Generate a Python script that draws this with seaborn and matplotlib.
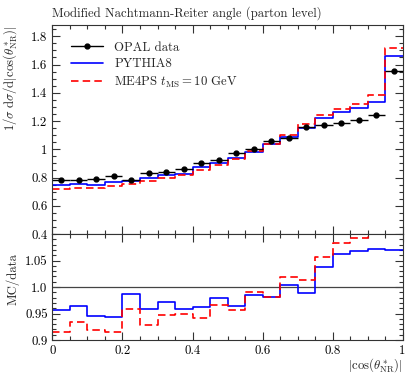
import numpy as np
import pandas as pd
import matplotlib
matplotlib.use('Agg')
import matplotlib.pyplot as plt
import seaborn as sns
from matplotlib.lines import Line2D
from matplotlib.ticker import MultipleLocator, FixedFormatter, FixedLocator

# Bin edges of |cos(theta*_NR)|
bin_edges = np.round(np.arange(0, 1.0001, 0.05), 2)

# OPAL data (parton level)
opal = [0.784, 0.779, 0.793, 0.812, 0.784, 0.831, 0.838, 0.862, 0.905, 0.924,
        0.976, 0.999, 1.056, 1.082, 1.161, 1.175, 1.189, 1.206, 1.246, 1.554]
# PYTHIA8
pythia = [0.750, 0.751, 0.749, 0.766, 0.773, 0.797, 0.815, 0.827, 0.871, 0.904,
          0.941, 0.983, 1.037, 1.086, 1.148, 1.220, 1.264, 1.289, 1.336, 1.663]
# ME4PS t_MS = 10 GeV
me4ps = [0.718, 0.727, 0.728, 0.743, 0.752, 0.772, 0.794, 0.818, 0.852, 0.892,
         0.933, 0.989, 1.036, 1.102, 1.176, 1.241, 1.287, 1.318, 1.381, 1.715]

# Style
sns.set_style('ticks')
plt.rcParams['font.family'] = 'serif'
plt.rcParams['font.serif'] = ['cmr10', 'DejaVu Serif']
plt.rcParams['mathtext.fontset'] = 'cm'
plt.rcParams['axes.formatter.use_mathtext'] = True
plt.rcParams['font.size'] = 9.2
plt.rcParams['xtick.direction'] = 'in'
plt.rcParams['ytick.direction'] = 'in'

fig = plt.figure(figsize=(4.15, 3.75), dpi=100)
ax = fig.add_axes([0.1265, 0.376, 0.8434, 0.5573])
rax = fig.add_axes([0.1265, 0.0933, 0.8434, 0.2827], sharex=ax)


def steps(values):
    # repeat last value so the final bin is drawn to the upper edge
    return pd.DataFrame({'x': bin_edges, 'y': list(values) + [values[-1]]})


centers = (bin_edges[:-1] + bin_edges[1:]) / 2
half_w = np.diff(bin_edges) / 2
dash = (0, (4.5, 2.5))

# Main panel
sns.lineplot(data=steps(pythia), x='x', y='y', ax=ax, color='#0000ff', lw=1.2,
             drawstyle='steps-post', estimator=None)
sns.lineplot(data=steps(me4ps), x='x', y='y', ax=ax, color='#ff0000', lw=1.2,
             drawstyle='steps-post', estimator=None, linestyle=dash)
ax.errorbar(centers, opal, xerr=half_w, fmt='o', color='black',
            ms=3.5, lw=1.0, capsize=0)

leg_handles = [Line2D([], [], color='black', marker='o', ms=3.5, lw=1.0),
               Line2D([], [], color='#0000ff', lw=1.2),
               Line2D([], [], color='#ff0000', lw=1.2, linestyle=dash)]
ax.legend(leg_handles,
          ['OPAL data', 'PYTHIA8', r'ME4PS $t_{\rm MS}=10$ GeV'],
          loc='upper left', bbox_to_anchor=(0.02, 0.975), frameon=False,
          handlelength=2.5, handletextpad=0.9, labelspacing=0.35,
          fontsize=9.2)

ax.set_xlim(0, 1)
ax.set_ylim(0.4, 1.88)
ax.xaxis.set_major_locator(MultipleLocator(0.2))
ax.xaxis.set_minor_locator(MultipleLocator(0.05))
ax.set_yticks([0.4, 0.6, 0.8, 1.0, 1.2, 1.4, 1.6, 1.8])
ax.set_yticklabels(['0.4', '0.6', '0.8', '1', '1.2', '1.4', '1.6', '1.8'])
ax.yaxis.set_minor_locator(MultipleLocator(0.05))
ax.tick_params(axis='x', labelbottom=False)
ax.set_xlabel('')
ax.set_ylabel(r'$1/\sigma\;\mathrm{d}\sigma/\mathrm{d}|\cos(\theta^*_{\mathrm{NR}})|$',
              ha='right')
ax.yaxis.set_label_coords(-0.095, 1.0)
ax.set_title('Modified Nachtmann-Reiter angle (parton level)', loc='left',
             fontsize=9.2, pad=6)

# Ratio panel
ratio_pythia = np.array(pythia) / np.array(opal)
ratio_me4ps = np.array(me4ps) / np.array(opal)
rax.axhline(1.0, color='#444444', lw=0.9)
sns.lineplot(data=steps(ratio_pythia), x='x', y='y', ax=rax, color='#0000ff',
             lw=1.2, drawstyle='steps-post', estimator=None)
sns.lineplot(data=steps(ratio_me4ps), x='x', y='y', ax=rax, color='#ff0000',
             lw=1.2, drawstyle='steps-post', estimator=None, linestyle=dash)
rax.set_ylim(0.9, 1.1)
rax.yaxis.set_major_locator(FixedLocator([0.9, 0.95, 1.0, 1.05]))
rax.yaxis.set_major_formatter(FixedFormatter(['0.9', '0.95', '1.0', '1.05']))
rax.yaxis.set_minor_locator(MultipleLocator(0.01))
rax.set_xticks([0, 0.2, 0.4, 0.6, 0.8, 1.0])
rax.set_xticklabels(['0', '0.2', '0.4', '0.6', '0.8', '1'])
rax.set_xlim(0, 1)
rax.set_ylabel('MC/data', ha='right')
rax.yaxis.set_label_coords(-0.095, 0.82)
rax.set_xlabel(r'$|\cos(\theta^*_{\mathrm{NR}})|$', ha='right')
rax.xaxis.set_label_coords(1.0, -0.155)

for a in (ax, rax):
    a.tick_params(which='both', top=True, right=True, direction='in',
                  width=0.8, colors='#333333', labelcolor='black')
    a.tick_params(which='major', length=6)
    a.tick_params(which='minor', length=3)
    for s in a.spines.values():
        s.set_linewidth(0.8)
        s.set_color('#333333')

fig.savefig('out.png', dpi=100)
